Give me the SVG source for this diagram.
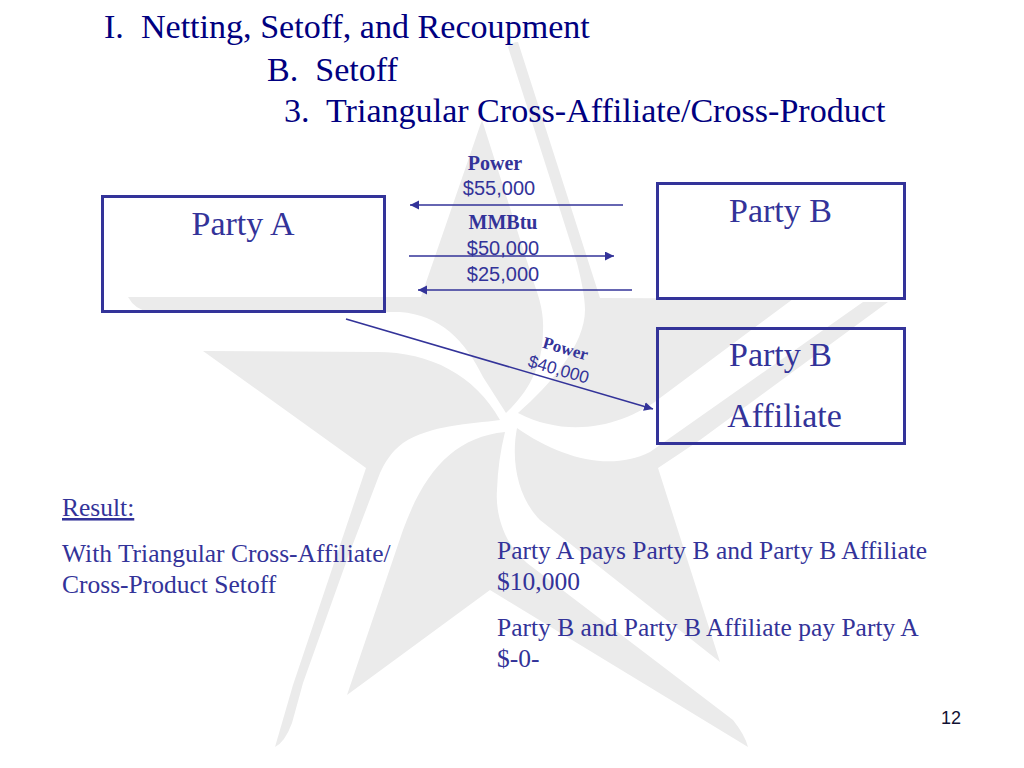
<svg xmlns="http://www.w3.org/2000/svg" width="1024" height="768" viewBox="0 0 1024 768">
<style>
text{white-space:pre}
.s{font-family:"Liberation Serif","Times New Roman",serif}
.a{font-family:"Liberation Sans",Arial,sans-serif}
.t{font-size:34.1px;fill:#000080}
.n{font-size:34px;fill:#333399;text-anchor:middle}
.b{font-size:25.5px;fill:#333399}
.l{font-size:20px;fill:#333399;text-anchor:middle}
.p{font-weight:bold}
.box{fill:none;stroke:#333399;stroke-width:3}
.c{fill:none;stroke:#333399;stroke-width:1.6;marker-end:url(#h)}
.w{fill:#ebebeb}
</style>
<defs>
<marker id="h" markerUnits="userSpaceOnUse" markerWidth="10" markerHeight="10" refX="9" refY="4.5" orient="auto">
<path d="M0,0L9,4.5L0,9Z" fill="#333399"/>
</marker>
</defs>
<rect width="1024" height="768" fill="#fff"/>
<g id="watermark">
<path class="w" d="M482,120L421,297L128,297Q135,310 150,312L400,312C440,315 465,340 483,377L506,413C525,395 543,370 543,330C544,310 538,295 533,280Z"/>
<path class="w" d="M508,47Q512,42 518,42L600,298L793,299L660,398C625,425 570,440 518,413C550,385 585,345 585,310C585,295 580,275 577,263Z"/>
<path class="w" d="M517,428C560,458 610,472 650,452L863,302L888,302L700,440L658,468L720,662L540,520C520,500 510,465 517,428Z"/>
<path class="w" d="M505,432C455,437 425,470 403,530L347,695L490,590L748,747Q745,735 733,720L527,563C505,545 495,515 497,490Q498,460 505,432Z"/>
<path class="w" d="M203,351L377,352C430,352 475,375 500,420C470,424 430,425 403,443C392,451 385,462 380,473L348,557L303,683Q297,705 292,723Q285,742 275,747L293,685L366,468Z"/>
</g>
<g id="title" class="s">
<text class="t" x="104" y="38">I.  Netting, Setoff, and Recoupment</text>
<text class="t" x="267" y="81">B.  Setoff</text>
<text class="t" x="284" y="122">3.  Triangular Cross-Affiliate/Cross-Product</text>
</g>
<g id="party-a"><rect class="box" x="102.5" y="196.5" width="282" height="115"/><text class="s n" x="243" y="235">Party A</text></g>
<g id="party-b"><rect class="box" x="657.5" y="183.5" width="247" height="115"/><text class="s n" x="780.5" y="222">Party B</text></g>
<g id="party-b-affiliate"><rect class="box" x="657.5" y="328.5" width="247" height="115"/><text class="s n" x="780.5" y="366">Party B</text><text class="s n" x="784.5" y="427">Affiliate</text></g>
<g id="labels">
<text class="s l p" x="495" y="170">Power</text>
<text class="a l" x="499" y="195">$55,000</text>
<text class="s l p" x="503" y="229">MMBtu</text>
<text class="a l" x="503" y="255">$50,000</text>
<text class="a l" x="503" y="281">$25,000</text>
<g transform="translate(564,354) rotate(16.2)"><text class="s l p" style="font-size:17px">Power</text></g>
<g transform="translate(557,375) rotate(16.2)"><text class="a l" style="font-size:17.3px">$40,000</text></g>
</g>
<g id="connectors">
<path class="c" d="M623,205L410,205"/>
<path class="c" d="M409,256L614,256"/>
<path class="c" d="M632,290L418,290"/>
<path class="c" d="M346,319L653,409"/>
</g>
<g id="result" class="s">
<text class="b" x="62" y="516" text-decoration="underline">Result:</text>
<text class="b" x="62" y="562">With Triangular Cross-Affiliate/</text>
<text class="b" x="62" y="593">Cross-Product Setoff</text>
<text class="b" x="497" y="559">Party A pays Party B and Party B Affiliate</text>
<text class="b" x="497" y="590">$10,000</text>
<text class="b" x="497" y="636">Party B and Party B Affiliate pay Party A</text>
<text class="b" x="497" y="667">$-0-</text>
</g>
<text id="page-number" class="a" x="941" y="724" font-size="18" fill="#111133">12</text>
</svg>
